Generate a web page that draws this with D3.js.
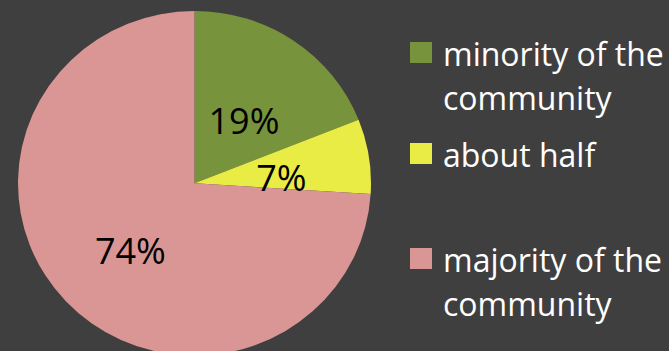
<!DOCTYPE html>
<html>
<head>
<meta charset="utf-8">
<script src="https://cdn.jsdelivr.net/npm/d3@7"></script>
<style>
html,body{margin:0;padding:0;background:#3f3f3f;}
svg{display:block;}
</style>
</head>
<body>
<svg id="chart" width="669" height="351"></svg>
<script>
const categories = ["minority of the community", "about half", "majority of the community"];
const legendLines = [["minority of the", "community"], ["about half"], ["majority of the", "community"]];
const values = [19, 7, 74];
const labels = ["19%", "7%", "74%"];
const colors = ["#77933c", "#e9ec45", "#d99694"];

const svg = d3.select("#chart");
const W = 669, H = 351;
svg.append("rect").attr("width", W).attr("height", H).attr("fill", "#3f3f3f");

const cx = 194.5, cy = 183.3, rx = 176.5, ry = 172.3;
const pie = d3.pie().sort(null).value(d => d)(values);
const arc = d3.arc().innerRadius(0).outerRadius(rx);

const g = svg.append("g").attr("transform", `translate(${cx},${cy}) scale(1,${ry/rx})`);
g.selectAll("path").data(pie).enter().append("path")
  .attr("d", arc).attr("fill", (d, i) => colors[i]);

const labelArc = d3.arc().innerRadius(88).outerRadius(88);
svg.append("g").selectAll("text").data(pie).enter().append("text")
  .attr("x", d => cx + labelArc.centroid(d)[0])
  .attr("y", d => cy + labelArc.centroid(d)[1] * ry / rx + 8)
  .attr("text-anchor", "middle")
  .attr("dominant-baseline", "central")
  .attr("font-family", "Open Sans, sans-serif")
  .attr("font-size", 36)
  .attr("fill", "#000")
  .text((d, i) => labels[i]);

// legend
const legendYs = [66, 167, 272];
const lg = svg.append("g");
categories.forEach((c, i) => {
  const y = legendYs[i];
  lg.append("rect").attr("x", 410).attr("y", y - 24).attr("width", 22).attr("height", 21).attr("fill", colors[i]);
  const t = lg.append("text").attr("x", 443).attr("y", y)
    .attr("font-family", "Open Sans, sans-serif").attr("font-size", 32).attr("fill", "#fff");
  legendLines[i].forEach((ln, j) => {
    t.append("tspan").attr("x", 443).attr("dy", j === 0 ? 0 : 44).text(ln);
  });
});
</script>
</body>
</html>
